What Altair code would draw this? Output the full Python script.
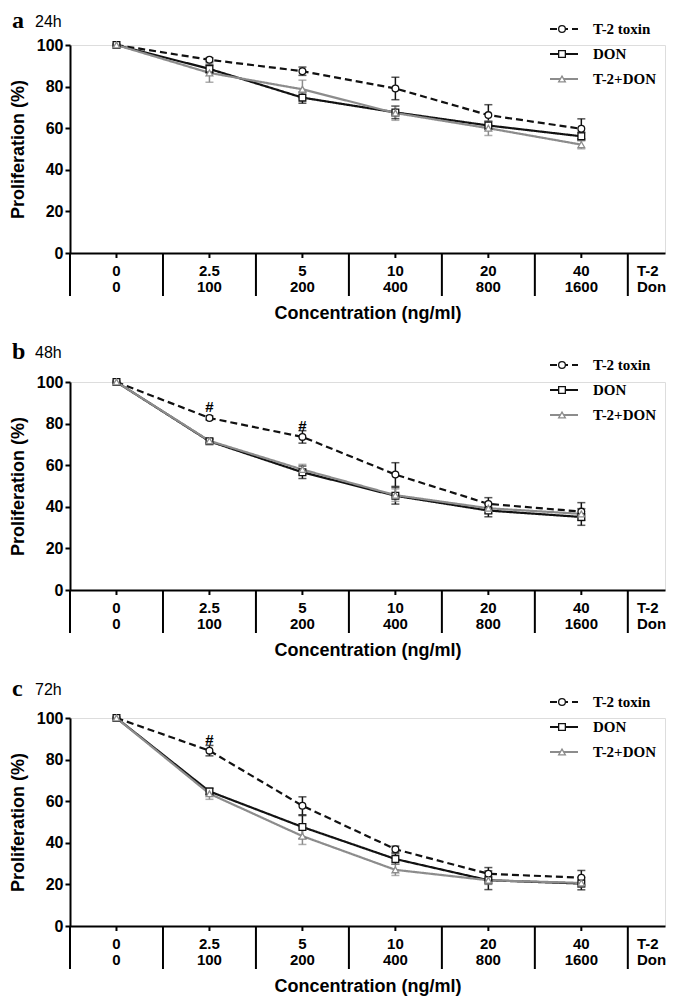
import altair as alt
import pandas as pd

# ---------------- data ----------------
t2_doses = ["0", "2.5", "5", "10", "20", "40"]
don_doses = ["0", "100", "200", "400", "800", "1600"]
dose_row_names = ["T-2", "Don"]

series_names = ["T-2 toxin", "DON", "T-2+DON"]
series_colors = ["#111111", "#111111", "#8c8c8c"]
series_shapes = ["circle", "square", "triangle-up"]
series_dashes = [[7, 4], [1, 0], [1, 0]]

panel_letters = ["a", "b", "c"]
panel_times = ["24h", "48h", "72h"]

# panel a (24h)
a_t2 = [100, 92.9, 87.4, 79.1, 66.3, 59.7]
a_t2_err = [0, 1.0, 2.0, 5.4, 5.0, 4.8]
a_don = [100, 88.5, 74.7, 67.6, 61.3, 56.1]
a_don_err = [0, 2.0, 2.7, 3.0, 2.0, 2.0]
a_mix = [100, 86.6, 78.7, 67.3, 60.0, 52.1]
a_mix_err = [0, 4.5, 4.4, 3.5, 3.5, 2.0]

# panel b (48h)
b_t2 = [100, 82.7, 73.6, 55.5, 41.4, 37.7]
b_t2_err = [0, 1.0, 3.0, 5.7, 3.0, 4.3]
b_don = [100, 71.5, 56.6, 45.3, 38.2, 35.1]
b_don_err = [0, 1.0, 3.0, 4.0, 3.0, 4.0]
b_mix = [100, 71.7, 57.9, 45.6, 39.3, 36.6]
b_mix_err = [0, 1.0, 2.5, 3.0, 2.5, 2.5]

# panel c (72h)
c_t2 = [100, 84.3, 57.8, 36.9, 25.1, 23.2]
c_t2_err = [0, 2.5, 4.3, 1.5, 3.0, 3.5]
c_don = [100, 64.7, 47.6, 32.2, 22.0, 20.4]
c_don_err = [0, 1.5, 5.5, 2.5, 4.5, 3.0]
c_mix = [100, 63.6, 43.2, 27.0, 22.0, 20.7]
c_mix_err = [0, 2.7, 4.0, 2.7, 2.0, 2.0]

# significance marks (#) on the T-2 toxin curve: (panel, dose index)
hash_panel = [1, 1, 2]
hash_idx = [1, 2, 1]

panel_series = [
    [(a_t2, a_t2_err), (a_don, a_don_err), (a_mix, a_mix_err)],
    [(b_t2, b_t2_err), (b_don, b_don_err), (b_mix, b_mix_err)],
    [(c_t2, c_t2_err), (c_don, c_don_err), (c_mix, c_mix_err)],
]

rows = []
for p, sers in enumerate(panel_series):
    for s, (vals, errs) in enumerate(sers):
        for i, (v, e) in enumerate(zip(vals, errs)):
            rows.append({"panel": p, "series": series_names[s], "order": s,
                         "idx": i, "value": v, "err": e, "lo": v - e, "hi": v + e})
df = pd.DataFrame(rows)

cats = pd.DataFrame({"idx": list(range(len(t2_doses))), "t2": t2_doses, "don": don_doses})
bounds = pd.DataFrame({"idx": [i - 0.5 for i in range(len(t2_doses) + 1)]})
legend_df = pd.DataFrame({"series": series_names})

# ---------------- styling ----------------
W, H = 595, 208
SANS = "Liberation Sans"
SERIF = "Liberation Serif"
heading_y = [-17, -23, -22]
legend_top = [-16, -17, -16]

xs = alt.Scale(domain=[-0.5, 5.9], nice=False, zero=False)
ys = alt.Scale(domain=[0, 100], nice=False, zero=True)
color_scale = alt.Scale(domain=series_names, range=series_colors)
dash_scale = alt.Scale(domain=series_names, range=series_dashes)
shape_scale = alt.Scale(domain=series_names, range=series_shapes)

x_axis = alt.Axis(title="Concentration (ng/ml)", labels=False, ticks=False, grid=False,
                  domainWidth=2, domainColor="black", titlePadding=51,
                  titleFont=SANS, titleFontSize=18, titleFontWeight="bold", titleColor="black")
y_axis = alt.Axis(title="Proliferation (%)", values=[0, 20, 40, 60, 80, 100], grid=False,
                  tickSize=5, tickWidth=2, tickColor="black", domainWidth=2, domainColor="black",
                  labelFont=SANS, labelFontSize=16, labelFontWeight="bold", labelColor="black",
                  labelPadding=2, titleFont=SANS, titleFontSize=18, titleFontWeight="bold",
                  titleColor="black", titlePadding=9)


def X():
    return alt.X("idx:Q", scale=xs, axis=x_axis)


def Y(field):
    return alt.Y(f"{field}:Q", scale=ys, axis=y_axis)


COLOR = alt.Color("series:N", scale=color_scale, legend=None)
STROKE = alt.Stroke("series:N", scale=color_scale, legend=None)
SHAPE = alt.Shape("series:N", scale=shape_scale, legend=None)
DASH = alt.StrokeDash("series:N", scale=dash_scale, legend=None)


def make_panel(p):
    d = df[df.panel == p]
    de = d[d.err > 0]
    caps = pd.concat([de.assign(cap=de.lo), de.assign(cap=de.hi)])

    lines = alt.Chart(d).mark_line(strokeWidth=2.2).encode(
        x=X(), y=Y("value"), color=COLOR, strokeDash=DASH, order="idx:Q")
    err_rules = alt.Chart(de).mark_rule(strokeWidth=1.5).encode(
        x=X(), y=Y("lo"), y2="hi:Q", color=COLOR)
    err_caps = alt.Chart(caps).mark_tick(orient="horizontal", size=8, thickness=1.5).encode(
        x=X(), y=Y("cap"), color=COLOR)
    points = alt.Chart(d).mark_point(filled=True, fill="white", size=45, strokeWidth=1.3,
                                     opacity=1).encode(
        x=X(), y=Y("value"), stroke=STROKE, shape=SHAPE)

    data_layers = [lines, err_rules, err_caps, points]
    hp = pd.DataFrame({"idx": [i for q, i in zip(hash_panel, hash_idx) if q == p]})
    if len(hp):
        hp["value"] = [panel_series[p][0][0][i] for i in hp["idx"]]
        hashes = alt.Chart(hp).mark_text(text="#", fontSize=15, font=SANS, fontWeight="bold",
                                         dy=-11, baseline="middle", color="black").encode(
            x=X(), y=Y("value"))
        data_layers.append(hashes)
    data = alt.layer(*data_layers)

    # legend drawn from the series list
    leg_y = alt.Y("series:N", sort=series_names,
                  scale=alt.Scale(type="point", domain=series_names,
                                  range=[legend_top[p], legend_top[p] + 50], padding=0),
                  axis=None)
    leg_lines = alt.Chart(legend_df).mark_rule(strokeWidth=2.2).encode(
        x=alt.value(480), x2=alt.value(508), y=leg_y, color=COLOR, strokeDash=DASH)
    leg_pts = alt.Chart(legend_df).mark_point(filled=True, fill="white", size=45,
                                              strokeWidth=1.3, opacity=1).encode(
        x=alt.value(492), y=leg_y, stroke=STROKE, shape=SHAPE)
    leg_txt = alt.Chart(legend_df).mark_text(font=SERIF, fontSize=15, fontWeight="bold",
                                             align="left", baseline="middle",
                                             color="black").encode(
        x=alt.value(523), y=leg_y, text="series:N")
    legend = alt.layer(leg_lines, leg_pts, leg_txt)

    # category axis: separators, small ticks, two-line dose labels
    sep = alt.Chart(bounds).mark_rule(strokeWidth=2, color="black").encode(
        x=X(), y=alt.value(H), y2=alt.value(H + 43))
    small_ticks = alt.Chart(cats).mark_rule(strokeWidth=2, color="black").encode(
        x=X(), y=alt.value(H), y2=alt.value(H + 5))
    lab1 = alt.Chart(cats).mark_text(font=SANS, fontSize=15, fontWeight="bold",
                                     baseline="middle", color="black").encode(
        x=X(), y=alt.value(H + 18), text="t2:N")
    lab2 = alt.Chart(cats).mark_text(font=SANS, fontSize=15, fontWeight="bold",
                                     baseline="middle", color="black").encode(
        x=X(), y=alt.value(H + 34), text="don:N")
    rowlab = pd.DataFrame({"name": dose_row_names})
    row1 = alt.Chart(rowlab.iloc[[0]]).mark_text(font=SANS, fontSize=15, fontWeight="bold",
                                                  baseline="middle", align="left",
                                                  color="black").encode(
        x=alt.value(W - 28), y=alt.value(H + 18), text="name:N")
    row2 = alt.Chart(rowlab.iloc[[1]]).mark_text(font=SANS, fontSize=15, fontWeight="bold",
                                                  baseline="middle", align="left",
                                                  color="black").encode(
        x=alt.value(W - 28), y=alt.value(H + 34), text="name:N")

    head = pd.DataFrame({"letter": [panel_letters[p]], "time": [panel_times[p]]})
    letter = alt.Chart(head).mark_text(font=SERIF, fontSize=24, fontWeight="bold",
                                       align="left", baseline="alphabetic", color="black").encode(
        x=alt.value(-58), y=alt.value(heading_y[p]), text="letter:N")
    time = alt.Chart(head).mark_text(font=SANS, fontSize=16, align="left",
                                     baseline="alphabetic", color="black").encode(
        x=alt.value(-35), y=alt.value(heading_y[p] - 1), text="time:N")

    return alt.layer(data, legend, sep, small_ticks, lab1, lab2, row1, row2, letter, time
                     ).resolve_scale(y="independent").properties(width=W, height=H)


panels = [make_panel(p) for p in range(3)]
chart = alt.vconcat(*panels, spacing=16).properties(padding=0).configure_view(
    stroke=None).configure(background="white")

chart.save("out.html", embed_options={"renderer": "svg", "actions": False})
